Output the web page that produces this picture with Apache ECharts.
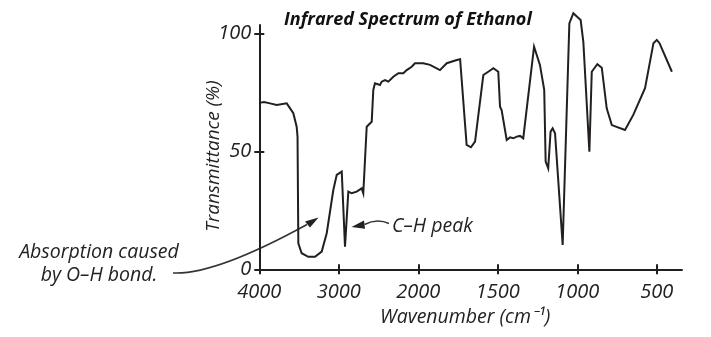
<!DOCTYPE html>
<html>
<head>
<meta charset="utf-8">
<script src="https://cdn.jsdelivr.net/npm/echarts@6/dist/echarts.min.js"></script>
<style>
  html, body { margin: 0; padding: 0; background: #fff; }
  #chart { width: 711px; height: 337px; }
</style>
</head>
<body>
<div id="chart"></div>
<script>
// Wavenumbers (cm^-1) and transmittance (%)
var wavenumbers = [4000, 3941, 3865, 3781, 3655, 3572, 3530, 3519, 3509, 3467, 3384, 3299, 3215, 3152, 3069, 3026, 2963, 2953, 2922, 2880, 2838, 2775, 2712, 2692, 2649, 2586, 2566, 2545, 2482, 2460, 2419, 2377, 2314, 2251, 2188, 2146, 2083, 2042, 1969, 1926, 1864, 1821, 1758, 1737, 1696, 1669, 1643, 1591, 1560, 1528, 1497, 1486, 1476, 1444, 1423, 1402, 1381, 1371, 1360, 1340, 1272, 1235, 1208, 1199, 1183, 1168, 1155, 1140, 1092, 1050, 1025, 979, 962, 924, 909, 874, 846, 815, 783, 700, 648, 574, 521, 500, 483, 405];
var transmittance = [70.5, 70.9, 70.3, 69.6, 70.3, 66.1, 60.4, 56.1, 11.0, 6.8, 5.3, 5.3, 7.5, 15.3, 33.6, 40.0, 41.4, 40.8, 9.6, 32.9, 32.2, 32.9, 34.3, 32.2, 60.4, 62.5, 76.0, 78.8, 78.1, 79.5, 80.2, 79.5, 81.6, 83.1, 83.1, 84.4, 85.8, 87.3, 87.3, 86.6, 84.4, 87.3, 88.7, 89.0, 52.7, 51.7, 54.1, 82.3, 83.7, 85.2, 83.7, 68.9, 67.5, 54.8, 55.9, 55.5, 56.2, 55.9, 56.5, 55.5, 94.3, 86.6, 76.0, 45.6, 42.8, 58.3, 59.7, 57.6, 10.3, 104.2, 108.5, 105.6, 96.4, 49.8, 83.7, 86.9, 85.4, 68.2, 61.1, 59.0, 65.4, 76.7, 95.8, 97.2, 95.8, 83.7];
var xTickWavenumbers = [4000, 3000, 2000, 1500, 1000, 500];
var yTicks = [0, 50, 100];

// IR chart scale changes at 2000 cm^-1 (1000 per division above, 500 per division below)
function toAxis(w) {
  return w >= 2000 ? (4000 - w) / 1000 : 2 + (2000 - w) / 500;
}
var xTickPos = xTickWavenumbers.map(toAxis);
var seriesData = wavenumbers.map(function (w, i) { return [toAxis(w), transmittance[i]]; });

var INK = '#231f20';
var TXT = '#222';
var FONT = 'Open Sans';
var X_MAX = 5.317;
var Y_MAX = 103.5;

var chart = echarts.init(document.getElementById('chart'), null, { renderer: 'canvas' });

function labelFor(v) {
  for (var i = 0; i < xTickPos.length; i++) {
    if (Math.abs(xTickPos[i] - v) < 1e-6) return String(xTickWavenumbers[i]);
  }
  return '';
}

var option = {
  animation: false,
  backgroundColor: '#fff',
  title: {
    text: 'Infrared Spectrum of Ethanol',
    left: 279,
    top: 6,
    textStyle: { fontFamily: FONT, fontStyle: 'italic', fontWeight: 'bold', fontSize: 18, color: '#111' }
  },
  grid: { left: 259.3, right: 29, top: 25, bottom: 67.7, containLabel: false },
  xAxis: [
    {
      type: 'value', min: 0, max: X_MAX, position: 'bottom',
      splitLine: { show: false },
      axisLine: { show: true, lineStyle: { color: INK, width: 2 } },
      axisTick: { show: true, inside: false, length: 5, customValues: xTickPos, lineStyle: { color: INK, width: 2 } },
      axisLabel: {
        customValues: xTickPos, formatter: labelFor, margin: 13,
        fontFamily: FONT, fontStyle: 'italic', fontSize: 20, color: TXT
      },
      name: 'Wavenumber (cm⁻¹)', nameLocation: 'middle', nameGap: 38, nameMoveOverlap: false,
      nameTextStyle: { fontFamily: FONT, fontStyle: 'italic', fontSize: 19.5, color: TXT, padding: [0, 11, 0, 0] }
    },
    {
      type: 'value', min: 0, max: X_MAX, position: 'bottom',
      splitLine: { show: false },
      axisLine: { show: false },
      axisTick: { show: true, inside: true, length: 5, customValues: xTickPos, lineStyle: { color: INK, width: 2 } },
      axisLabel: { show: false }
    }
  ],
  yAxis: [
    {
      type: 'value', min: 0, max: Y_MAX, position: 'left',
      splitLine: { show: false },
      axisLine: { show: true, lineStyle: { color: INK, width: 2 } },
      axisTick: { show: true, inside: false, length: 5, customValues: yTicks, lineStyle: { color: INK, width: 2 } },
      axisLabel: {
        customValues: yTicks, margin: 8,
        fontFamily: FONT, fontStyle: 'italic', fontSize: 20, color: TXT
      },
      name: 'Transmittance (%)', nameLocation: 'middle', nameGap: 36, nameMoveOverlap: false,
      nameTextStyle: { fontFamily: FONT, fontStyle: 'italic', fontSize: 19, color: TXT, padding: [0, 18, 0, 0] }
    },
    {
      type: 'value', min: 0, max: Y_MAX, position: 'left',
      splitLine: { show: false },
      axisLine: { show: false },
      axisTick: { show: true, inside: true, length: 5, customValues: yTicks, lineStyle: { color: INK, width: 2 } },
      axisLabel: { show: false }
    }
  ],
  series: [
    {
      type: 'line',
      xAxisIndex: 0, yAxisIndex: 0,
      data: seriesData,
      showSymbol: false, symbol: 'none',
      clip: false,
      lineStyle: { color: INK, width: 2, join: 'miter', miterLimit: 8 },
      silent: true
    }
  ],
  graphic: [
    { type: 'text', style: { x: 99, y: 252, text: 'Absorption caused', textAlign: 'center', textVerticalAlign: 'middle', fontFamily: FONT, fontStyle: 'italic', fontSize: 19.5, fill: TXT } },
    { type: 'text', style: { x: 99, y: 275, text: 'by O–H bond.', textAlign: 'center', textVerticalAlign: 'middle', fontFamily: FONT, fontStyle: 'italic', fontSize: 19.5, fill: TXT } },
    { type: 'bezierCurve', shape: { x1: 173, y1: 273, cpx1: 215, cpy1: 275, x2: 307, y2: 224.5 }, style: { stroke: '#333', lineWidth: 1.5, fill: null } },
    { type: 'polygon', shape: { points: [[318.5, 217.5], [310, 227.6], [305, 221.5]] }, style: { fill: '#222' } },
    { type: 'text', style: { x: 392, y: 226, text: 'C–H peak', textAlign: 'left', textVerticalAlign: 'middle', fontFamily: FONT, fontStyle: 'italic', fontSize: 19.5, fill: TXT } },
    { type: 'bezierCurve', shape: { x1: 364.5, y1: 224.5, cpx1: 377, cpy1: 218, x2: 389, y2: 223.5 }, style: { stroke: '#333', lineWidth: 1.5, fill: null } },
    { type: 'polygon', shape: { points: [[351.5, 227], [364, 220.5], [365, 228.8]] }, style: { fill: '#222' } }
  ]
};

chart.setOption(option);
</script>
</body>
</html>
